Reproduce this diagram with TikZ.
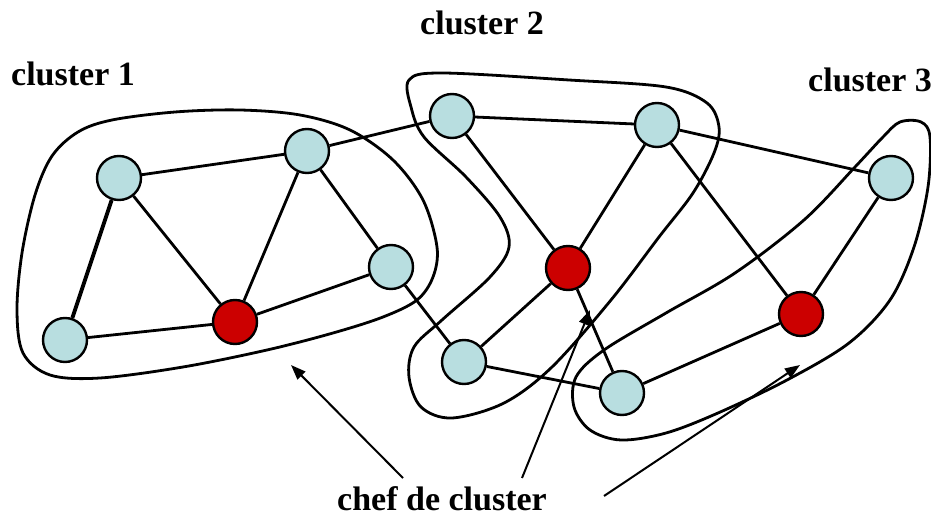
\documentclass[tikz,border=0pt]{standalone}
\usepackage{fontspec}
\setmainfont{Liberation Serif}
\usetikzlibrary{arrows.meta}
\definecolor{nodeblue}{RGB}{184,222,224}
\definecolor{headred}{RGB}{204,0,0}
\begin{document}
\begin{tikzpicture}[x=1pt,y=-1pt,
  vtx/.style={circle,draw=black,line width=2.4pt,fill=nodeblue,minimum size=44pt,inner sep=0pt},
  head/.style={vtx,fill=headred},
  link/.style={line width=2.8pt},
  hull/.style={line width=2.8pt,line join=round},
  lbl/.style={font=\fontsize{34}{40}\selectfont\bfseries,inner sep=0pt,anchor=base west},
  pointer/.style={line width=2pt,-{Triangle[length=15pt,width=11pt]}}
]
\useasboundingbox (0,0) rectangle (931,518);

% cluster outlines
\draw[hull] plot[smooth cycle,tension=0.55] coordinates {
  (112,120) (175,112) (240,110) (300,115) (350,130) (393,160) (423,200)
  (437,247) (433,277) (417,300) (383,317) (333,333) (267,350) (183,367)
  (100,378) (50,375) (23,353) (17,310) (22,253) (35,195) (52,156) (78,132)};
\draw[hull] plot[smooth cycle,tension=0.55] coordinates {
  (409,80) (442,73) (569,80) (666,87) (707,103) (719,127) (714,153)
  (693,193) (659,237) (611,300) (552,367) (504,403) (452,418) (421,407)
  (409,377) (414,347) (442,320) (490,277) (509,247) (500,217) (466,177)
  (424,137) (411,107)};
\draw[hull] plot[smooth cycle,tension=0.55] coordinates {
  (900,122) (921,122) (930,137) (928,187) (914,247) (890,300) (849,343)
  (787,380) (718,413) (666,433) (621,440) (590,430) (574,407) (576,377)
  (604,350) (666,313) (735,273) (804,220) (855,167) (883,137)};

% vertices
\node[vtx]  (a) at (119,178) {};
\node[vtx]  (b) at (307,151) {};
\node[vtx]  (c) at (391,267) {};
\node[head] (d) at (235,322) {};
\node[vtx]  (e) at (65,340) {};
\node[vtx]  (f) at (452,116) {};
\node[vtx]  (g) at (657,125) {};
\node[head] (h) at (568,268) {};
\node[vtx]  (j) at (464,362) {};
\node[vtx]  (k) at (622,393) {};
\node[vtx]  (l) at (891,178) {};
\node[head] (i) at (801,314) {};

% links
\draw[link] (a) -- (b);
\draw[link,line width=3.8pt] (a) -- (e);
\draw[link] (a) -- (d);
\draw[link] (b) -- (d);
\draw[link] (b) -- (c);
\draw[link] (c) -- (d);
\draw[link] (e) -- (d);
\draw[link] (b) -- (f);
\draw[link] (c) -- (j);
\draw[link] (f) -- (g);
\draw[link] (f) -- (h);
\draw[link] (g) -- (h);
\draw[link] (g) -- (i);
\draw[link] (g) -- (l);
\draw[link] (h) -- (j);
\draw[link] (h) -- (k);
\draw[link] (j) -- (k);
\draw[link] (k) -- (i);
\draw[link] (l) -- (i);

% labels
\node[lbl] (t1) at (11,86) {cluster 1};
\node[lbl] (t2) at (420,35) {cluster 2};
\node[lbl] (t3) at (808,92) {cluster 3};
\node[lbl] (chef) at (337,510) {chef de cluster};

% pointers to the cluster heads
\coordinate (p1s) at (403,478);
\coordinate (p1e) at (291,365);
\coordinate (p2s) at (522,478);
\coordinate (p2e) at (590,310);
\coordinate (p3s) at (604,496);
\coordinate (p3e) at (800,365);
\draw[pointer] (p1s) -- (p1e);
\draw[pointer] (p2s) -- (p2e);
\draw[pointer] (p3s) -- (p3e);
\end{tikzpicture}
\end{document}
